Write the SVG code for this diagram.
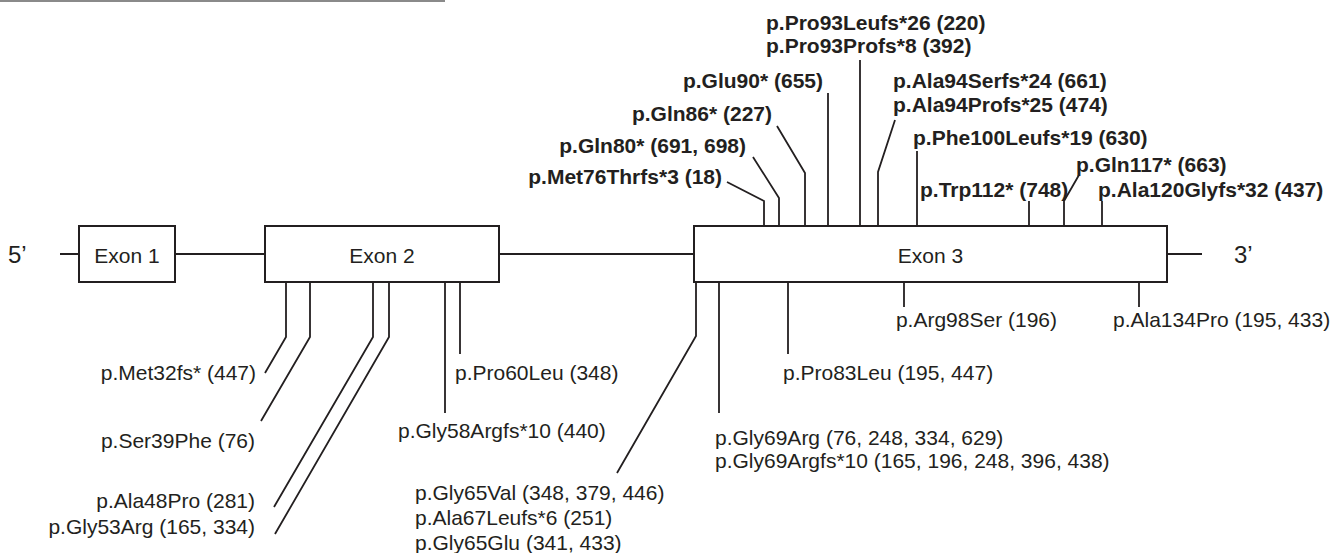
<svg xmlns="http://www.w3.org/2000/svg" width="1344" height="553" viewBox="0 0 1344 553">
<style>
.box{fill:#fff;stroke:#231f20;stroke-width:2}
.ln{fill:none;stroke:#231f20;stroke-width:1.8}
text{font-family:"Liberation Sans",Arial,sans-serif;font-size:21px;fill:#231f20}
.b{font-weight:bold}
.e{text-anchor:end}
.m{text-anchor:middle}
.end{font-size:24px}
</style>
<rect x="0" y="0" width="445" height="2" fill="#8a8a8a"/>
<g id="backbone">
<line class="ln" x1="60" y1="254" x2="1202" y2="254"/>
</g>
<g id="exon1"><rect class="box" x="79" y="226" width="96" height="56"/><text class="m" x="127" y="263">Exon 1</text></g>
<g id="exon2"><rect class="box" x="265" y="226" width="234" height="56"/><text class="m" x="382" y="263">Exon 2</text></g>
<g id="exon3"><rect class="box" x="694" y="226" width="473" height="56"/><text class="m" x="930.5" y="263">Exon 3</text></g>
<g id="end5"><text class="end" x="8" y="263">5’</text></g>
<g id="end3"><text class="end" x="1234" y="263">3’</text></g>
<g id="connectors">
<polyline class="ln" points="727,182 764,201 764,226"/>
<polyline class="ln" points="753,157 779,198 779,226"/>
<polyline class="ln" points="777,126 805,173 805,226"/>
<polyline class="ln" points="828,93 828,226"/>
<polyline class="ln" points="860,60 860,226"/>
<polyline class="ln" points="895,120 878,172 878,226"/>
<polyline class="ln" points="917,151 917,226"/>
<polyline class="ln" points="1029,201 1029,226"/>
<polyline class="ln" points="1079,175 1064,201 1064,226"/>
<polyline class="ln" points="1102,201 1102,226"/>
<polyline class="ln" points="286,282 286,337 265,373"/>
<polyline class="ln" points="310,282 310,337 261,421"/>
<polyline class="ln" points="373,282 373,337 274,507"/>
<polyline class="ln" points="389,282 389,337 275,534"/>
<polyline class="ln" points="445,282 445,413"/>
<polyline class="ln" points="460,282 460,354"/>
<polyline class="ln" points="696,282 696,336 617,473"/>
<polyline class="ln" points="719,282 719,413"/>
<polyline class="ln" points="788,282 788,354"/>
<polyline class="ln" points="904,282 904,307"/>
<polyline class="ln" points="1139,282 1139,307"/>
</g>
<g id="labels-top">
<text class="b" x="766" y="30">p.Pro93Leufs*26 (220)</text>
<text class="b" x="766" y="53">p.Pro93Profs*8 (392)</text>
<text class="b e" x="823" y="88">p.Glu90* (655)</text>
<text class="b e" x="772" y="121">p.Gln86* (227)</text>
<text class="b e" x="746" y="153">p.Gln80* (691, 698)</text>
<text class="b e" x="722" y="184">p.Met76Thrfs*3 (18)</text>
<text class="b" x="893" y="88">p.Ala94Serfs*24 (661)</text>
<text class="b" x="893" y="112">p.Ala94Profs*25 (474)</text>
<text class="b" x="913" y="145">p.Phe100Leufs*19 (630)</text>
<text class="b" x="1076" y="172">p.Gln117* (663)</text>
<text class="b" x="920" y="197">p.Trp112* (748)</text>
<text class="b" x="1098" y="197">p.Ala120Glyfs*32 (437)</text>
</g>
<g id="labels-bottom">
<text class="e" x="256" y="380">p.Met32fs* (447)</text>
<text class="e" x="255" y="448">p.Ser39Phe (76)</text>
<text class="e" x="255" y="508">p.Ala48Pro (281)</text>
<text class="e" x="255" y="534">p.Gly53Arg (165, 334)</text>
<text x="398" y="438">p.Gly58Argfs*10 (440)</text>
<text x="455" y="380">p.Pro60Leu (348)</text>
<text x="415" y="500">p.Gly65Val (348, 379, 446)</text>
<text x="415" y="525">p.Ala67Leufs*6 (251)</text>
<text x="415" y="550">p.Gly65Glu (341, 433)</text>
<text x="715" y="445">p.Gly69Arg (76, 248, 334, 629)</text>
<text x="715" y="468">p.Gly69Argfs*10 (165, 196, 248, 396, 438)</text>
<text x="783" y="380">p.Pro83Leu (195, 447)</text>
<text class="e" x="1057" y="327">p.Arg98Ser (196)</text>
<text x="1113" y="327">p.Ala134Pro (195, 433)</text>
</g>
</svg>
